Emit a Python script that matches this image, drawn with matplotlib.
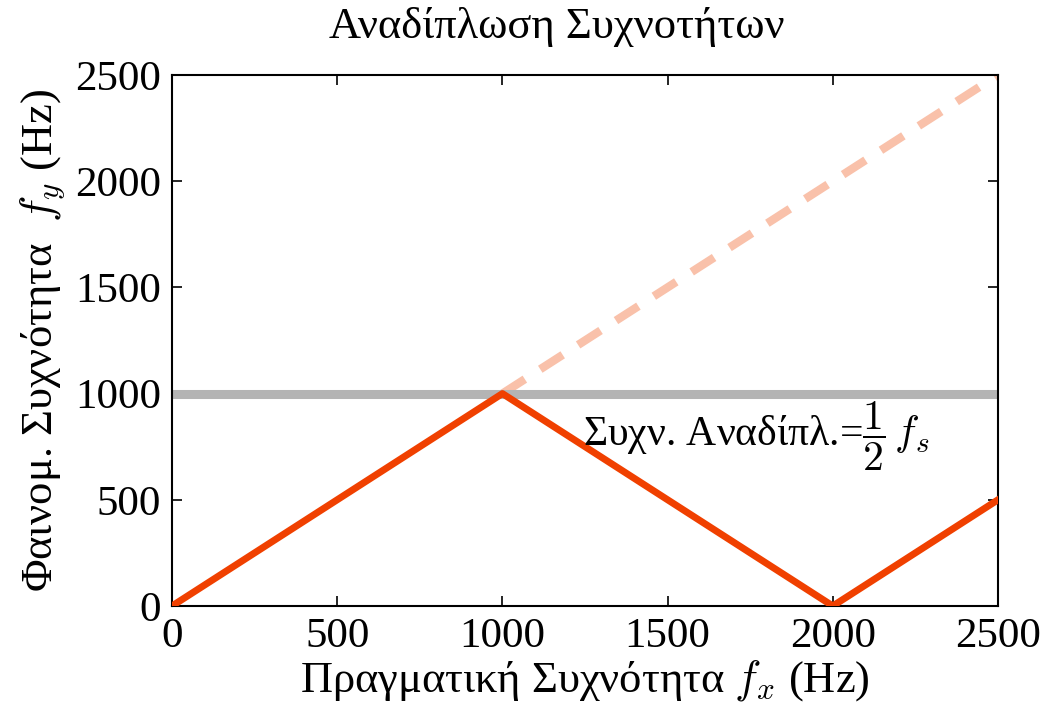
import matplotlib
matplotlib.use("Agg")
import matplotlib.pyplot as plt

# Data
fx_actual = [0, 1000, 2000, 2500]
fy_apparent = [0, 1000, 0, 500]
fx_true = [1000, 2500]
fy_true = [1000, 2500]
fold_x = [0, 2500]
fold_y = [1000, 1000]
ticks = [0, 500, 1000, 1500, 2000, 2500]

plt.rcParams['font.family'] = ['Liberation Serif', 'DejaVu Serif']
plt.rcParams['mathtext.fontset'] = 'cm'

fig = plt.figure(figsize=(10.47, 7.19), dpi=100)
ax = fig.add_axes([0.1643, 0.1572, 0.7889, 0.7385])

ax.plot(fold_x, fold_y, color='#b4b4b4', lw=6.5, solid_capstyle='butt', zorder=2)
ax.plot(fx_true, fy_true, color='#f9c1aa', lw=6, dashes=(3.2, 2.2), zorder=1)
ax.plot(fx_actual, fy_apparent, color='#f04000', lw=5, zorder=3)

ax.set_xlim(0, 2500)
ax.set_ylim(0, 2500)
ax.set_xticks(ticks)
ax.set_yticks(ticks)
ax.tick_params(direction='in', top=True, right=True, labelsize=31, length=7, width=1.2, pad=8)
for s in ax.spines.values():
    s.set_linewidth(1.5)

ax.set_xlabel(r'Πραγματική Συχνότητα $f_x$ (Hz)', fontsize=32, labelpad=2)
ax.set_ylabel(r'Φαινομ. Συχνότητα  $f_y$ (Hz)', fontsize=32, labelpad=6)
fig.text(0.532, 0.962, 'Αναδίπλωση Συχνοτήτων', fontsize=32, ha='center', va='center')
ax.text(1245, 800, r'Συχν. Αναδίπλ.=$\dfrac{1}{2}\,f_s$', fontsize=30, ha='left', va='center')

fig.savefig('out.png', dpi=100)
